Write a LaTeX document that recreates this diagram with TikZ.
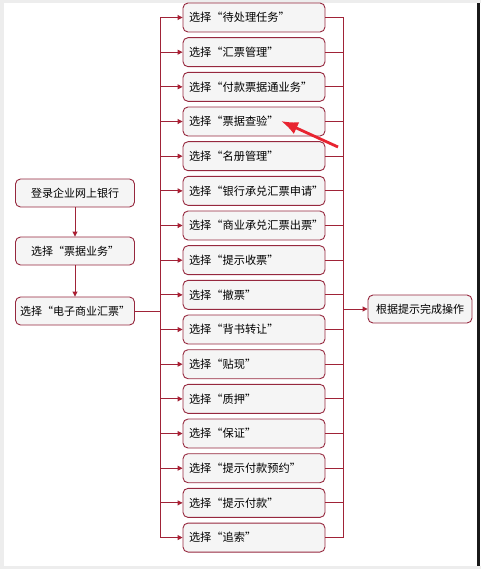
\documentclass[tikz,border=0pt]{standalone}
\usepackage{fontspec}
\usepackage{tikz}
\usetikzlibrary{arrows.meta}
\newfontfamily\cjk{Noto Sans CJK SC}
\definecolor{boxred}{RGB}{150,40,62}
\definecolor{linered}{RGB}{160,35,55}
\definecolor{tipred}{RGB}{200,20,40}
\definecolor{pointred}{RGB}{232,36,48}
\tikzset{
  leftbox/.style={draw=boxred, fill=black!4, rounded corners=5pt, line width=0.9pt,
    minimum width=119pt, minimum height=28pt, font=\cjk\fontsize{11}{13}\selectfont},
  optbox/.style={draw=boxred, fill=black!4, rounded corners=5pt, line width=0.9pt,
    text width=130pt, inner xsep=6pt, align=left, minimum height=29pt,
    font=\cjk\fontsize{11.2}{13}\selectfont},
  link/.style={draw=linered, line width=0.9pt},
  flow/.style={link, -{Triangle[length=5pt,width=5pt,fill=tipred]}}
}
\begin{document}
\begin{tikzpicture}[x=1pt,y=-1pt]
        \useasboundingbox (0,0) rectangle (481,569);
        \fill[black!7] (0,0) rectangle (481,3);
        \fill[black!7] (0,0) rectangle (4,569);
        \fill[black!7] (0,566) rectangle (481,569);
        \fill[black!90] (477,3) rectangle (479.5,566);
        \def \gap {34.67}
        \def \ystart {17.5}

        \coordinate (busL) at (160,0);
        \coordinate (busR) at (343,0);

        % left chain
        \node[leftbox] at (75,193) (login) {登录企业网上银行};
        \node[leftbox] at (75,251) (bill) {选择“票据业务”};
        \node[leftbox] at (75,311) (ecds) {选择“电子商业汇票”};
        \draw[flow] (login)--(bill);
        \draw[flow] (bill)--(ecds);

        % the sixteen choices
        \foreach \t [count=\ni from 0] in {待处理任务,汇票管理,付款票据通业务,票据查验,名册管理,
            银行承兑汇票申请,商业承兑汇票出票,提示收票,撤票,背书转让,贴现,质押,保证,
            提示付款预约,提示付款,追索}{
          \node[optbox] at (254,{\ystart+\ni*\gap}) (opt\ni) {选择“\t”};
          \draw[flow] (opt\ni.west -| busL)--(opt\ni.west);
          \draw[link] (opt\ni.east)--(opt\ni.east -| busR);
        }
        \draw[link] (ecds.east)--(ecds.east -| busL);
        \draw[link] (opt0.west -| busL)--(opt15.west -| busL);
        \draw[link] (opt0.east -| busR)--(opt15.east -| busR);

        \node[leftbox, minimum width=104pt] at (420,309) (done) {根据提示完成操作};
        \draw[flow] (done.west -| busR)--(done.west);

        % pointer
        \coordinate (ptail) at (338,147);
        \coordinate (ptip) at (281,121);
        \draw[pointred, line width=2.8pt, -{Latex[length=17pt,width=13pt]}] (ptail)--(ptip);
\end{tikzpicture}
\end{document}
